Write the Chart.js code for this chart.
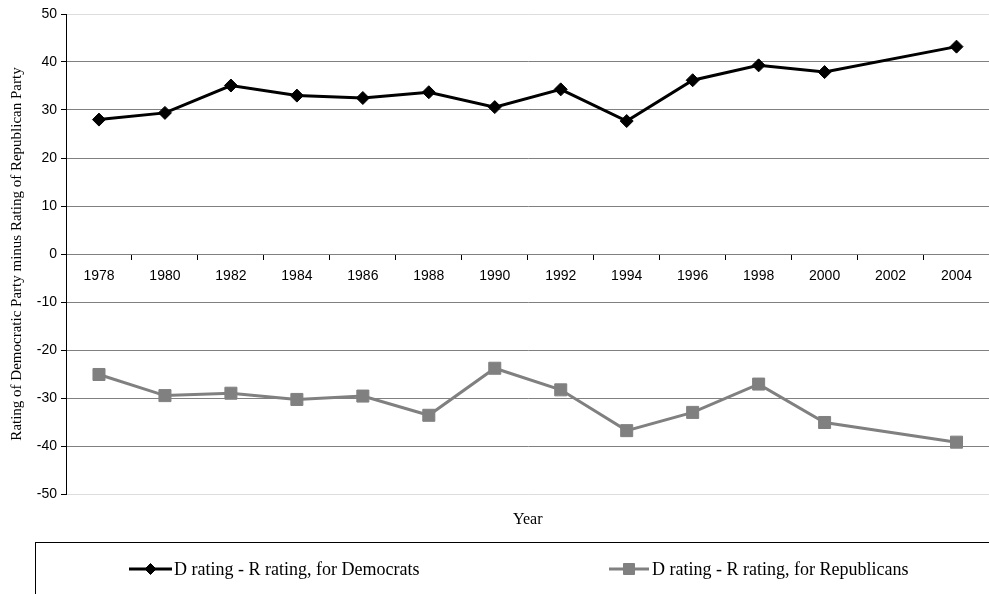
<!DOCTYPE html>
<html>
<head>
<meta charset="utf-8">
<script src="https://cdn.jsdelivr.net/npm/chart.js@4/dist/chart.umd.min.js"></script>
<style>
  html, body { margin: 0; padding: 0; background: #fff; overflow: hidden; }
  /* a bit wider than the window: the line chart keeps ~10px free on the right for the last marker */
  #wrap { width: 999px; height: 594px; position: relative; }
</style>
</head>
<body>
<div id="wrap"><canvas id="myChart"></canvas></div>
<script>
// years on the category axis
var years = ['1978', '1980', '1982', '1984', '1986', '1988', '1990', '1992', '1994', '1996', '1998', '2000', '2002', '2004'];
// D rating - R rating, for Democrats (no value for 2002)
var demValues = [28.0, 29.4, 35.1, 33.0, 32.5, 33.7, 30.6, 34.3, 27.7, 36.2, 39.3, 37.9, null, 43.2];
// D rating - R rating, for Republicans
var repValues = [-25.1, -29.5, -29.0, -30.3, -29.6, -33.6, -23.8, -28.3, -36.8, -33.0, -27.1, -35.1, null, -39.2];
var seriesNames = ['D rating - R rating, for Democrats', 'D rating - R rating, for Republicans'];

var sansFont = "'Liberation Sans', Arial, sans-serif";
var serifFont = "'Liberation Serif', 'Times New Roman', serif";

// legend inside a box under the chart, line + marker like the original
var boxLegend = {
  id: 'boxLegend',
  afterDraw: function (chart) {
    var ctx = chart.ctx;
    ctx.save();
    ctx.strokeStyle = '#000';
    ctx.lineWidth = 1;
    ctx.strokeRect(35.5, 542.5, 1000, 120);

    var items = [
      { ds: chart.data.datasets[0], x1: 129, x2: 172, textX: 174 },
      { ds: chart.data.datasets[1], x1: 609, x2: 649, textX: 652 }
    ];
    var y = 569;
    items.forEach(function (it) {
      ctx.strokeStyle = it.ds.borderColor;
      ctx.lineWidth = 3;
      ctx.beginPath();
      ctx.moveTo(it.x1, y);
      ctx.lineTo(it.x2, y);
      ctx.stroke();
      var cx = (it.x1 + it.x2) / 2;
      ctx.fillStyle = it.ds.pointBackgroundColor;
      ctx.strokeStyle = it.ds.pointBorderColor;
      ctx.lineWidth = 1;
      ctx.beginPath();
      if (it.ds.pointStyle === 'rect') {
        ctx.rect(cx - 5.5, y - 5.5, 11, 11);
      } else {
        ctx.moveTo(cx, y - 5.5); ctx.lineTo(cx + 5.5, y); ctx.lineTo(cx, y + 5.5); ctx.lineTo(cx - 5.5, y);
        ctx.closePath();
      }
      ctx.fill();
      ctx.stroke();
      ctx.fillStyle = '#000';
      ctx.font = '18px ' + serifFont;
      ctx.textBaseline = 'middle';
      ctx.textAlign = 'left';
      ctx.fillText(it.ds.label, it.textX, y + 1);
    });
    ctx.restore();
  }
};

function noSidePadding(scale) {
  scale.paddingLeft = 0;
  scale.paddingRight = 0;
}

var data = {
  labels: years,
  datasets: [{
    label: seriesNames[0],
    data: demValues,
    borderColor: '#000000',
    backgroundColor: '#000000',
    pointBackgroundColor: '#000000',
    pointBorderColor: '#000000',
    borderWidth: 3,
    pointStyle: 'rectRot',
    pointRadius: 6.5,
    pointBorderWidth: 1,
    tension: 0,
    spanGaps: true
  }, {
    label: seriesNames[1],
    data: repValues,
    borderColor: '#808080',
    backgroundColor: '#808080',
    pointBackgroundColor: '#808080',
    pointBorderColor: '#808080',
    borderWidth: 3,
    pointStyle: 'rect',
    pointRadius: 8.5,
    pointBorderWidth: 1,
    tension: 0,
    spanGaps: true
  }]
};

var config = {
  type: 'line',
  data: data,
  options: {
    responsive: true,
    maintainAspectRatio: false,
    animation: false,
    layout: { padding: { top: 14, right: 0, bottom: 60, left: 0 } },
    scales: {
      x: {
        type: 'category',
        position: { y: 0 },
        offset: true,
        grid: {
          display: true,
          drawOnChartArea: false,
          drawTicks: true,
          tickLength: 5,
          tickColor: '#000',
          offset: true
        },
        border: { display: true, color: '#808080', width: 1 },
        ticks: {
          color: '#000',
          font: { family: sansFont, size: 14 },
          padding: 9,
          maxRotation: 0,
          autoSkip: false
        },
        afterFit: noSidePadding
      },
      x2: {
        type: 'category',
        position: 'bottom',
        labels: years,
        grid: { display: false },
        border: { display: false },
        ticks: { display: false },
        title: {
          display: true,
          text: 'Year',
          color: '#000',
          font: { family: serifFont, size: 16 },
          padding: { top: 0, bottom: 5 }
        },
        afterFit: function (scale) {
          scale.height = 40;
          noSidePadding(scale);
        }
      },
      y: {
        min: -50,
        max: 50,
        ticks: {
          stepSize: 10,
          color: '#000',
          font: { family: sansFont, size: 14 },
          padding: 4
        },
        grid: {
          color: function (c) {
            if (c.tick && (c.tick.value === 50 || c.tick.value === -50)) return '#dddddd';
            return '#808080';
          },
          tickColor: '#000',
          tickLength: 5
        },
        border: { display: true, color: '#000', width: 1 },
        title: {
          display: true,
          text: 'Rating of Democratic Party minus Rating of Republican Party',
          color: '#000',
          font: { family: serifFont, size: 15 },
          padding: { top: 8, bottom: 0 }
        },
        afterFit: function (scale) { scale.width = 66; }
      }
    },
    plugins: {
      legend: { display: false },
      tooltip: { enabled: false }
    }
  },
  plugins: [boxLegend]
};

const myChart = new Chart(document.getElementById('myChart'), config);
</script>
</body>
</html>
